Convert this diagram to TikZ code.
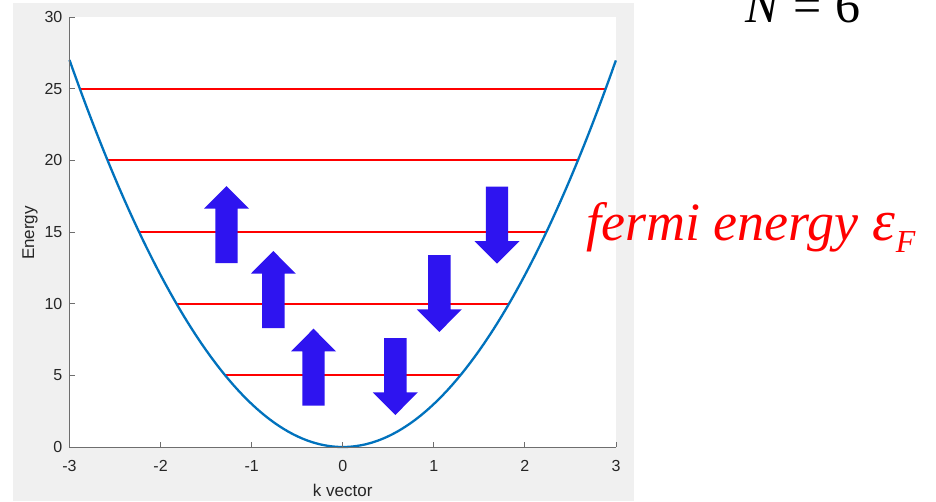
\documentclass[tikz,border=0pt]{standalone}
\usepackage{fontspec}
\setmainfont{Liberation Serif}
\newfontfamily\axfont{Liberation Sans}
\definecolor{figgray}{RGB}{240,240,240}
\definecolor{mblue}{RGB}{0,114,189}
\definecolor{spinblue}{RGB}{46,20,240}
\definecolor{axcol}{RGB}{38,38,38}
\definecolor{axline}{RGB}{110,110,110}
\begin{document}
\begin{tikzpicture}[x=1pt,y=-1pt,
  axisline/.style={draw=axline, line width=0.9pt},
  ticklab/.style={inner sep=0pt, text=axcol, font=\axfont\fontsize{16}{16}\selectfont},
  axlab/.style={inner sep=0pt, text=axcol, font=\axfont\fontsize{17}{17}\selectfont},
  level/.style={draw=red, line width=2.3pt},
  band/.style={draw=mblue, line width=2.3pt},
  upspin/.pic={\fill[spinblue] (-11.2,77) -- (-11.2,22.7) -- (-22.5,22.7) -- (0,0) -- (22.5,22.7) -- (11.2,22.7) -- (11.2,77) -- cycle;},
  downspin/.pic={\fill[spinblue] (-11.2,-77) -- (-11.2,-22.7) -- (-22.5,-22.7) -- (0,0) -- (22.5,-22.7) -- (11.2,-22.7) -- (11.2,-77) -- cycle;}
]
\useasboundingbox (0,0) rectangle (936,501);
\fill[figgray] (13,3) rectangle (634,501);
\fill[white] (69.5,17) rectangle (616,447);
% energy levels
\foreach \E in {5,10,15,20,25} {
  \pgfmathsetmacro\kk{sqrt(\E/3)}
  \draw[level] ({69.5+(3-\kk)*91.083},{447-\E*14.333}) -- ({69.5+(3+\kk)*91.083},{447-\E*14.333});
}
% dispersion
\draw[band] plot[domain=-3:3, samples=121] ({69.5+(\x+3)*91.083},{447-3*\x*\x*14.333});
% axes
\draw[axisline] (69.5,17) -- (69.5,447) -- (616,447);
\foreach \v in {0,5,...,30} {
  \draw[axisline] (69.5,{447-\v*14.333}) -- (75,{447-\v*14.333});
  \node[ticklab, anchor=east] (yt\v) at (62.5,{447-\v*14.333}) {\v};
}
\foreach \v [count=\i] in {-3,-2,-1,0,1,2,3} {
  \draw[axisline] ({69.5+(\v+3)*91.083},447) -- ({69.5+(\v+3)*91.083},441.5);
  \node[ticklab, anchor=north] (xt\i) at ({69.5+(\v+3)*91.083},460.5) {\v};
}
\node[axlab, rotate=90] (ylab) at (30,233) {Energy};
\node[axlab] (xlab) at (342.7,490) {k vector};
% spins
\pic at (226.5,186) {upspin};
\pic at (273.3,251) {upspin};
\pic at (313.5,328.7) {upspin};
\pic at (497,263.7) {downspin};
\pic at (439.3,332) {downspin};
\pic at (395.3,415) {downspin};
% labels
\node[anchor=base west, inner sep=0pt, font=\fontsize{50}{50}\selectfont] (nlab) at (745,22) {\textit{N}\hspace{13pt}=\hspace{13pt}6};
\node[anchor=base west, inner sep=0pt, text=red, font=\fontsize{54}{54}\selectfont\itshape] (fermi) at (586,240) {fermi energy \fontsize{58}{58}\selectfont ε\kern1pt\raisebox{-12pt}{\fontsize{32}{32}\selectfont F}};
\end{tikzpicture}
\end{document}
